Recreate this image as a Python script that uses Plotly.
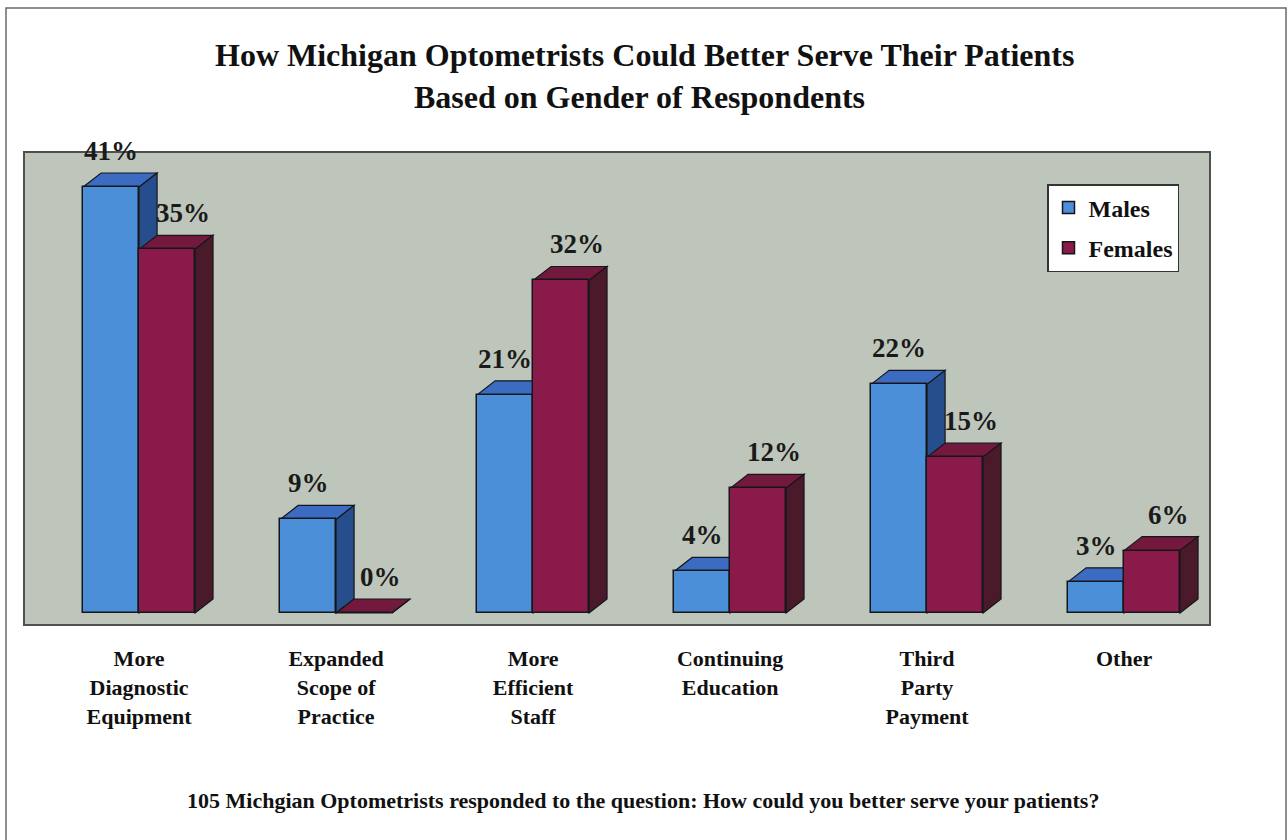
import plotly.graph_objects as go

# ---- data -------------------------------------------------------------
categories = [
    "More<br>Diagnostic<br>Equipment",
    "Expanded<br>Scope of<br>Practice",
    "More<br>Efficient<br>Staff",
    "Continuing<br>Education",
    "Third<br>Party<br>Payment",
    "Other",
]
males = [41, 9, 21, 4, 22, 3]
females = [35, 0, 32, 12, 15, 6]

title_line1 = "How Michigan Optometrists Could Better Serve Their Patients"
title_line2 = "Based on Gender of Respondents"
footnote = ("105 Michgian Optometrists responded to the question: "
            "How could you better serve your patients?")

# ---- layout constants ---------------------------------------------------
W, H = 1288, 840
MARGIN = dict(l=25, r=79, t=153, b=216)
X_RANGE = [-0.579, 5.431]
Y_RANGE = [-1.06, 44.27]
BAR_W = 0.284            # width of one bar in category units
DEPTH_PX = (18, 14)      # oblique depth of the 3-D bars, in pixels
FONT = "Liberation Serif, Times New Roman, serif"
EDGE = "#16161a"

plot_w = W - MARGIN["l"] - MARGIN["r"]
plot_h = H - MARGIN["t"] - MARGIN["b"]
ddx = DEPTH_PX[0] * (X_RANGE[1] - X_RANGE[0]) / plot_w
ddy = DEPTH_PX[1] * (Y_RANGE[1] - Y_RANGE[0]) / plot_h


def px_to_paper_x(px):
    return (px - MARGIN["l"]) / plot_w


def px_to_paper_y(py):
    return 1 - (py - MARGIN["t"]) / plot_h


series = [
    ("Males", males, dict(front="#4a8fd8", top="#3c6cc2", side="#274e8c",
                          offset=-BAR_W, label_shift=0)),
    ("Females", females, dict(front="#8a1a4a", top="#72193d", side="#4a1a2b",
                              offset=0.0, label_shift=16)),
]

fig = go.Figure()
shapes = []
annotations = []
xs = list(range(len(categories)))

for name, values, st in series:
    # front faces
    fig.add_trace(go.Bar(
        x=xs, y=values, name=f"<b>{name}</b>", width=BAR_W, offset=st["offset"],
        marker=dict(color=st["front"], line=dict(color=EDGE, width=1.5)),
        legendgroup=name, hoverinfo="skip",
    ))
    for i, v in zip(xs, values):
        x0 = i + st["offset"]
        x1 = x0 + BAR_W
        # top face
        shapes.append(dict(
            type="path", xref="x", yref="y", layer="below",
            path=(f"M {x0},{v} L {x1},{v} L {x1 + ddx},{v + ddy} "
                  f"L {x0 + ddx},{v + ddy} Z"),
            fillcolor=st["top"], line=dict(color=EDGE, width=1.2),
        ))
        # right side face
        shapes.append(dict(
            type="path", xref="x", yref="y", layer="below",
            path=(f"M {x1},0 L {x1},{v} L {x1 + ddx},{v + ddy} "
                  f"L {x1 + ddx},{ddy} Z"),
            fillcolor=st["side"], line=dict(color=EDGE, width=1.2),
        ))
        # value label above the bar
        annotations.append(dict(
            x=i + st["offset"] + BAR_W / 2, y=v, xref="x", yref="y",
            text=f"<b>{v}%</b>", showarrow=False, yanchor="middle",
            yshift=36, xshift=st["label_shift"],
            font=dict(family=FONT, size=27, color="#1a1a1a"),
        ))

# titles and footnote, centred on the page
page_cx = px_to_paper_x(W / 2)
annotations += [
    dict(x=page_cx, y=px_to_paper_y(55), xref="paper", yref="paper",
         text=f"<b>{title_line1}</b>", showarrow=False, yanchor="middle",
         font=dict(family=FONT, size=32, color="#111")),
    dict(x=page_cx - 0.004, y=px_to_paper_y(97), xref="paper", yref="paper",
         text=f"<b>{title_line2}</b>", showarrow=False, yanchor="middle",
         font=dict(family=FONT, size=32, color="#111")),
    dict(x=px_to_paper_x(643), y=px_to_paper_y(800),
         xref="paper", yref="paper", text=f"<b>{footnote}</b>",
         showarrow=False, yanchor="middle",
         font=dict(family=FONT, size=22, color="#111")),
]

# outer frame around the whole chart
shapes.append(dict(
    type="rect", xref="paper", yref="paper", layer="above",
    x0=px_to_paper_x(6), x1=px_to_paper_x(1286),
    y0=px_to_paper_y(860), y1=px_to_paper_y(8),
    line=dict(color="#6a6a6a", width=1.5), fillcolor="rgba(0,0,0,0)",
))

fig.update_layout(
    width=W, height=H, margin=MARGIN,
    paper_bgcolor="white", plot_bgcolor="#bec6bc",
    barmode="overlay", bargap=0,
    shapes=shapes, annotations=annotations,
    showlegend=True,
    legend=dict(
        x=px_to_paper_x(1047), y=px_to_paper_y(184),
        xanchor="left", yanchor="top",
        bgcolor="white", bordercolor="#333", borderwidth=1.5,
        font=dict(family=FONT, size=24, color="#111"),
        tracegroupgap=6, itemwidth=30,
    ),
    xaxis=dict(
        range=X_RANGE, tickvals=xs,
        ticktext=[f"<b>{c}</b>" for c in categories],
        tickfont=dict(family=FONT, size=22, color="#111"),
        showgrid=False, zeroline=False, ticks="", ticklabelstandoff=14,
        showline=True, mirror=True, linecolor="#505050", linewidth=2,
    ),
    yaxis=dict(
        range=Y_RANGE, showticklabels=False, showgrid=False, zeroline=False,
        ticks="", showline=True, mirror=True, linecolor="#505050", linewidth=2,
    ),
)

fig.write_html("out.html")
